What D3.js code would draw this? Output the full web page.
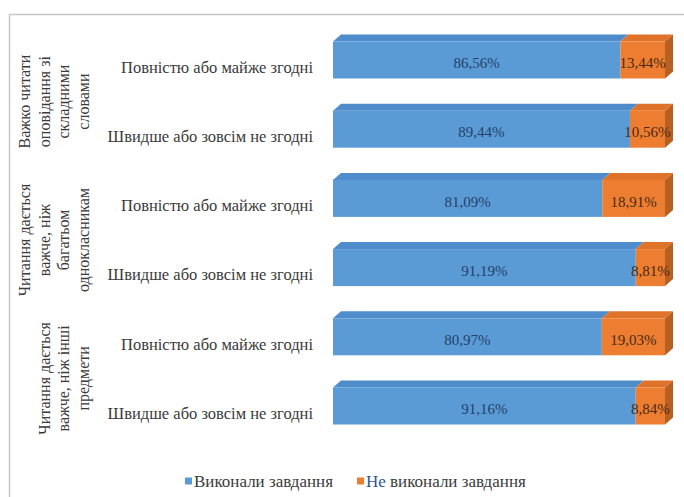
<!DOCTYPE html>
<html lang="uk">
<head>
<meta charset="utf-8">
<title>Виконання завдання</title>
<style>
  html, body { margin: 0; padding: 0; background: #fff; }
  svg { display: block; }
  svg text { font-family: 'Liberation Serif', 'DejaVu Serif', 'Times New Roman', serif; }
</style>
</head>
<body>
<script src="https://cdn.jsdelivr.net/npm/d3@7"></script>
<script>
const groups = [
  ['Важко читати', 'оповідання зі', 'складними', 'словами'],
  ['Читання дається', 'важче, ніж', 'багатьом', 'однокласникам'],
  ['Читання дається', 'важче, ніж інші', 'предмети']
]
const categories = [
  'Повністю або майже згодні',
  'Швидше або зовсім не згодні',
  'Повністю або майже згодні',
  'Швидше або зовсім не згодні',
  'Повністю або майже згодні',
  'Швидше або зовсім не згодні'
]
const done = [86.56, 89.44, 81.09, 91.19, 80.97, 91.16]
const notDone = [13.44, 10.56, 18.91, 8.81, 19.03, 8.84]
const seriesNames = ['Виконали завдання', 'Не виконали завдання']

const w = 684, h = 497
const barH = 37
const depthX = 8, depthY = 7
const front = ['#5b9bd5', '#ed7d31']
const top_ = ['#4f8ccc', '#e0732a']
const side = ['#41719c', '#b85f22']
const labelColor = ['#243f6a', '#4a2a12']

const locale = d3.formatLocale({ decimal: ',', thousands: ' ', grouping: [3], currency: ['', ''] })
const fmt = v => locale.format('.2f')(v) + '%'

const rows = categories.map((c, i) => ({ i, cat: c, vals: [done[i], notDone[i]] }))

const svg = d3.select('body').append('svg')
  .attr('width', w).attr('height', h)

// chart area border
svg.append('rect')
  .attr('x', 9.5).attr('y', 14.5)
  .attr('width', w).attr('height', h)
  .attr('fill', 'none').attr('stroke', '#c8c8c8').attr('stroke-width', 1.5)

const x = d3.scaleLinear().domain([0, 100]).range([333, 665])
const y = d3.scaleBand().domain(d3.range(rows.length)).range([32.4, 447.6])

// category labels
svg.append('g').selectAll('text')
  .data(rows)
  .join('text')
  .attr('x', 313)
  .attr('y', d => y(d.i) + y.bandwidth() / 2)
  .attr('dy', '0.35em')
  .attr('text-anchor', 'end')
  .attr('font-size', 16.5)
  .attr('fill', '#3a3a3a')
  .text(d => d.cat)

// group labels (rotated)
const gl = svg.append('g').selectAll('g')
  .data(groups)
  .join('g')
  .attr('transform', (d, gi) => {
    const yc = (y(gi * 2) + y(gi * 2 + 1) + y.bandwidth()) / 2
    return `translate(0, ${yc})`
  })
gl.selectAll('text')
  .data(d => d.map((t, k) => ({ t, k, n: d.length })))
  .join('text')
  .attr('transform', d => `translate(${83 - (d.n - 1 - d.k) * 19.5}, 0) rotate(-90)`)
  .attr('dy', '0.35em')
  .attr('text-anchor', 'middle')
  .attr('font-size', 16)
  .attr('fill', '#3a3a3a')
  .text(d => d.t)

// 3D stacked bars
const bars = svg.append('g').selectAll('g')
  .data(rows)
  .join('g')
  .attr('transform', d => `translate(0, ${y(d.i) + y.bandwidth() / 2 - 7 - barH / 2})`)

bars.each(function (d) {
  const g = d3.select(this)
  let acc = 0
  d.vals.forEach((v, s) => {
    const x0 = x(acc), x1 = x(acc + v)
    acc += v
    g.append('path')
      .attr('d', `M${x0},0 L${x0 + depthX},${-depthY} L${x1 + depthX},${-depthY} L${x1},0 Z`)
      .attr('fill', top_[s])
    g.append('rect')
      .attr('x', x0).attr('y', 0)
      .attr('width', x1 - x0).attr('height', barH)
      .attr('fill', front[s])
    if (s === d.vals.length - 1) {
      g.append('path')
        .attr('d', `M${x1},0 L${x1 + depthX},${-depthY} L${x1 + depthX},${barH - depthY} L${x1},${barH} Z`)
        .attr('fill', side[s])
    }
    g.append('text')
      .attr('x', (x0 + x1) / 2)
      .attr('y', barH / 2 + 3)
      .attr('dy', '0.35em')
      .attr('text-anchor', 'middle')
      .attr('font-size', 15)
      .attr('fill', labelColor[s])
      .text(fmt(v))
  })
})

// legend
const legend = svg.append('g').attr('transform', 'translate(185, 481)')
const items = [{ s: 0, x: 0 }, { s: 1, x: 172 }]
items.forEach(it => {
  legend.append('rect')
    .attr('x', it.x).attr('y', -3.5)
    .attr('width', 7).attr('height', 7)
    .attr('fill', front[it.s])
  const t = legend.append('text')
    .attr('x', it.x + 9)
    .attr('dy', '0.35em')
    .attr('font-size', 17)
    .attr('fill', '#3a3a3a')
  if (it.s === 1) {
    t.append('tspan').attr('fill', '#2f5597').text('Не ')
    t.append('tspan').text(seriesNames[1].slice(3))
  } else {
    t.text(seriesNames[0])
  }
})
</script>
</body>
</html>
